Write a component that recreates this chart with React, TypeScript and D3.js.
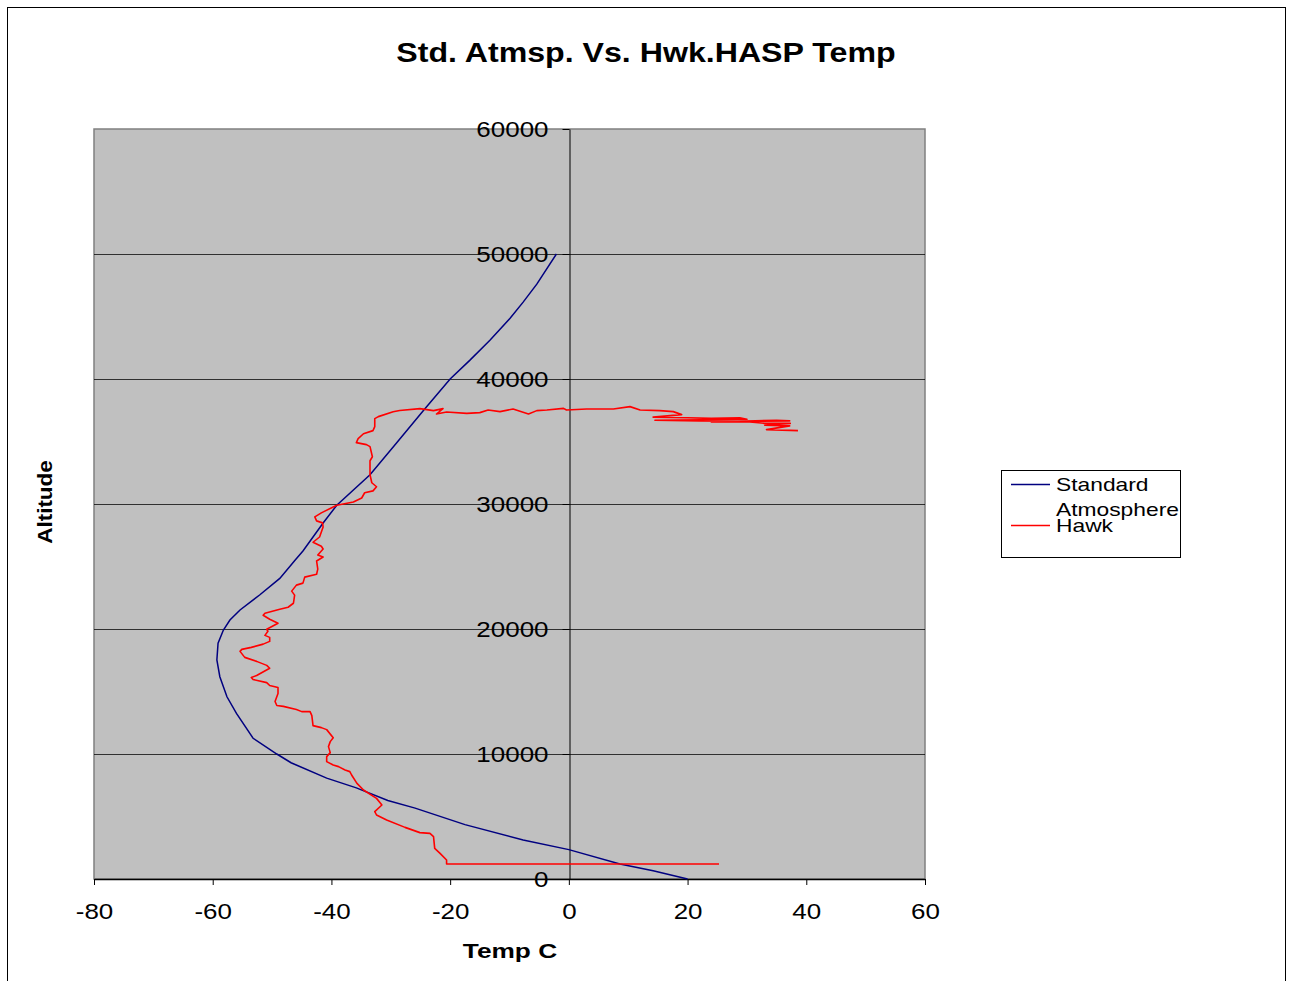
import { useEffect, useRef } from 'react';
import * as d3 from 'd3';

// Standard Atmosphere (deg C vs ft)
const stdTemp = [
  20, 14.2, 8.6, 0, -7.7, -17.5, -25.9, -30.5, -35.8, -40.8, -46.8, -49.2, -53.2, -56.0,
  -57.6, -58.8, -59.3, -59.1, -58.2, -57.1, -55.4, -52.1, -48.7, -46.1, -44.8, -41.4, -39.1,
  -33.5, -29, -24.5, -20, -16.7, -13.3, -9.9, -7.7, -5.4, -2.1,
];
const stdAlt = [
  0, 660, 1200, 2350, 3120, 4350, 5670, 6280, 7290, 8070, 9300, 10000, 11260, 13250,
  14580, 16180, 17520, 18860, 19920, 20720, 21520, 22720, 24050, 25520, 26240, 28480, 29900,
  32340, 34900, 37480, 40000, 41490, 43100, 44860, 46150, 47590, 50000,
];

// Hawk HASP flight
const hawkTemp = [
  25.3, -20.6, -20.6, -21.7, -22.6, -22.8, -23.4, -25.1, -27.6, -30.7, -32.4, -32.7, -31.5,
  -32.4, -34.6, -35.7, -36.6, -36.9, -37.7, -38.8, -39.7, -40.8, -40.8, -40.2, -40.5, -40.2,
  -39.7, -40.8, -41.7, -43.1, -43.3, -43.6, -45.0, -45.9, -48.1, -49.2, -49.5, -49.0, -49.0,
  -50.4, -50.9, -53.2, -53.5, -52.6, -50.4, -50.9, -52.6, -54.6, -55.4, -55.1, -53.5, -51.5,
  -50.4, -50.4, -51.2, -50.7, -50.9, -49.0, -50.4, -51.5, -51.2, -48.7, -47.3, -46.4, -46.2,
  -46.7, -45.9, -44.8, -44.5, -42.5, -42.3, -42.5, -41.4, -42.3, -41.4, -41.7, -43.1, -42.0,
  -41.4, -41.5, -42.5, -42.8, -41.7, -39.1, -36.3, -34.9, -34.4, -33.0, -32.4, -33.2, -33.5,
  -33.5, -33.1, -33.5, -34.1, -35.8, -35.5, -34.6, -33.0, -32.7, -32.7, -32.1, -29.6, -28.5,
  -25.1, -22.8, -21.2, -22.3, -20.6, -17.2, -15.0, -13.6, -11.6, -9.4, -6.8, -5.4, -3.7,
  -0.9, -0.4, 3.0, 7.5, 10.3, 12.0, 15.3, 17.6, 19.0, 14.2, 20.0, 24.0, 28.8, 30.0,
  14.5, 22.0, 30.0, 37.2, 35.0, 24.0, 30.5, 33.0, 37.3, 33.0, 37.2, 33.3, 38.6,
];
const hawkAlt = [
  1200, 1200, 1520, 2050, 2450, 3390, 3650, 3710, 4130, 4720, 5120, 5390, 5920,
  6450, 7120, 7650, 8320, 8590, 8720, 8990, 9120, 9390, 9790, 10110, 10590, 10990,
  11300, 11950, 12110, 12270, 13070, 13390, 13390, 13560, 13810, 13880, 14200, 14840, 15320,
  15480, 15710, 15960, 16120, 16280, 16860, 17090, 17410, 17730, 18210, 18370, 18530, 18790,
  19010, 19330, 19490, 19820, 19980, 20460, 20780, 21100, 21260, 21580, 21740, 22060, 22710,
  23030, 23510, 23670, 24150, 24380, 24790, 25440, 25760, 25920, 26400, 26620, 26940, 27360,
  28160, 28490, 28650, 28970, 29290, 29900, 30160, 30480, 30900, 31050, 31380, 31700, 32340,
  33460, 33780, 34590, 34750, 34910, 35230, 35620, 35870, 36190, 36830, 36990, 37380, 37480,
  37630, 37470, 37630, 37200, 37360, 37250, 37310, 37520, 37390, 37600, 37200, 37470, 37520,
  37650, 37520, 37600, 37600, 37790, 37520, 37470, 37390, 37150, 36950, 36900, 36850, 36900, 36780,
  36700, 36650, 36620, 36650, 36700, 36560, 36560, 36450, 36450, 36300, 36250, 35950, 35870,
];

const xTicks = [-80, -60, -40, -20, 0, 20, 40, 60];
const yTicks = [0, 10000, 20000, 30000, 40000, 50000, 60000];
const seriesNames = ['Standard Atmosphere', 'Hawk'];
const seriesColors = ['#000080', '#FF0000'];

const FONT = '"Liberation Sans", Arial, sans-serif';

// the original text is drawn a bit wider than Arial, stretch it horizontally
const stretch = (sel: d3.Selection<any, any, any, any>, k: number) => {
  sel.each(function () {
    const node = this as SVGTextContentElement;
    const w = node.getComputedTextLength();
    if (w > 0) {
      d3.select(node).attr('textLength', w * k).attr('lengthAdjust', 'spacingAndGlyphs');
    }
  });
};

const App = () => {
  const svgRef = useRef<SVGSVGElement>(null);

  useEffect(() => {
    const svg = d3.select(svgRef.current);
    svg.selectAll('*').remove();

    // plot area
    const plot = { left: 94, top: 129, right: 925, bottom: 879 };

    const xScale = d3.scaleLinear().domain([-80, 60]).range([plot.left, plot.right]);
    const yScale = d3.scaleLinear().domain([0, 60000]).range([plot.bottom, plot.top]);

    // outer chart border
    svg
      .append('rect')
      .attr('x', 7.5)
      .attr('y', 7.5)
      .attr('width', 1278)
      .attr('height', 990)
      .attr('fill', '#fff')
      .attr('stroke', '#000')
      .attr('stroke-width', 1);

    // title
    const title = svg
      .append('text')
      .attr('x', 646)
      .attr('y', 62)
      .attr('text-anchor', 'middle')
      .attr('font-family', FONT)
      .attr('font-weight', 'bold')
      .attr('font-size', 27)
      .text('Std. Atmsp. Vs. Hwk.HASP Temp');
    stretch(title, 1.19);

    // plot background
    svg
      .append('rect')
      .attr('x', plot.left)
      .attr('y', plot.top)
      .attr('width', plot.right - plot.left)
      .attr('height', plot.bottom - plot.top)
      .attr('fill', '#C0C0C0')
      .attr('stroke', '#808080')
      .attr('stroke-width', 1.5);

    // gridlines
    svg
      .append('g')
      .selectAll('line')
      .data(yTicks.filter((d) => d > 0 && d < 60000))
      .enter()
      .append('line')
      .attr('x1', plot.left)
      .attr('x2', plot.right)
      .attr('y1', (d) => Math.round(yScale(d)) + 0.5)
      .attr('y2', (d) => Math.round(yScale(d)) + 0.5)
      .attr('stroke', '#000')
      .attr('stroke-opacity', 0.75)
      .attr('stroke-width', 1);

    // x axis (plain hyphen for negatives, like the original)
    const xAxis = svg
      .append('g')
      .attr('transform', `translate(0,${plot.bottom})`)
      .call(
        d3
          .axisBottom(xScale)
          .tickValues(xTicks)
          .tickSize(6)
          .tickSizeOuter(0)
          .tickPadding(18)
          .tickFormat((d) => String(d)),
      );
    xAxis.select('.domain').attr('stroke', '#000').attr('stroke-width', 1.5);
    xAxis.selectAll('line').attr('stroke', '#000');
    const xLabels = xAxis
      .selectAll('text')
      .attr('font-family', FONT)
      .attr('font-size', 22)
      .attr('fill', '#000');
    stretch(xLabels, 1.18);

    // y axis at x = 0
    const yAxis = svg
      .append('g')
      .attr('transform', `translate(${Math.round(xScale(0)) + 0.5},0)`)
      .call(
        d3
          .axisLeft(yScale)
          .tickValues(yTicks)
          .tickSize(7)
          .tickSizeOuter(0)
          .tickPadding(14)
          .tickFormat((d) => String(d)),
      );
    yAxis.select('.domain').attr('stroke', '#000').attr('stroke-width', 1);
    yAxis.selectAll('line').attr('stroke', '#000');
    const yLabels = yAxis
      .selectAll('text')
      .attr('font-family', FONT)
      .attr('font-size', 22)
      .attr('fill', '#000');
    stretch(yLabels, 1.18);

    // lines
    const line = d3
      .line<[number, number]>()
      .x((d) => xScale(d[0]))
      .y((d) => yScale(d[1]));

    const stdPts = stdTemp.map((t, i) => [t, stdAlt[i]] as [number, number]);
    const hawkPts = hawkTemp.map((t, i) => [t, hawkAlt[i]] as [number, number]);

    svg
      .append('path')
      .attr('fill', 'none')
      .attr('stroke', seriesColors[0])
      .attr('stroke-width', 1.5)
      .attr('d', line(stdPts) as string);

    svg
      .append('path')
      .attr('fill', 'none')
      .attr('stroke', seriesColors[1])
      .attr('stroke-width', 1.6)
      .attr('stroke-linejoin', 'round')
      .attr('d', line(hawkPts) as string);

    // axis titles
    const xTitle = svg
      .append('text')
      .attr('x', 510)
      .attr('y', 958)
      .attr('text-anchor', 'middle')
      .attr('font-family', FONT)
      .attr('font-weight', 'bold')
      .attr('font-size', 21)
      .text('Temp C');
    stretch(xTitle, 1.25);

    const yTitle = svg
      .append('text')
      .attr('transform', 'translate(52,502) rotate(-90)')
      .attr('text-anchor', 'middle')
      .attr('font-family', FONT)
      .attr('font-weight', 'bold')
      .attr('font-size', 21)
      .text('Altitude');
    stretch(yTitle, 1.07);

    // legend
    const legend = svg.append('g');
    legend
      .append('rect')
      .attr('x', 1001.5)
      .attr('y', 470.5)
      .attr('width', 179)
      .attr('height', 87)
      .attr('fill', '#fff')
      .attr('stroke', '#000')
      .attr('stroke-width', 1);

    const legendRows = [
      { y: 484, lines: ['Standard', 'Atmosphere'] },
      { y: 525, lines: ['Hawk'] },
    ];
    legendRows.forEach((row, i) => {
      legend
        .append('line')
        .attr('x1', 1011)
        .attr('x2', 1050)
        .attr('y1', row.y + 0.5)
        .attr('y2', row.y + 0.5)
        .attr('stroke', seriesColors[i])
        .attr('stroke-width', 1.5);
      const t = legend
        .append('text')
        .attr('font-family', FONT)
        .attr('font-size', 19)
        .attr('fill', '#000')
        .attr('aria-label', seriesNames[i]);
      row.lines.forEach((s, j) => {
        t.append('tspan')
          .attr('x', 1056)
          .attr('y', row.y + 7 + j * 25)
          .text(s);
      });
      stretch(t.selectAll('tspan'), 1.2);
    });
  }, []);

  return (
    <svg
      ref={svgRef}
      width={1291}
      height={981}
      style={{ position: 'absolute', left: 0, top: 0, background: '#fff' }}
    />
  );
};

export default App;
